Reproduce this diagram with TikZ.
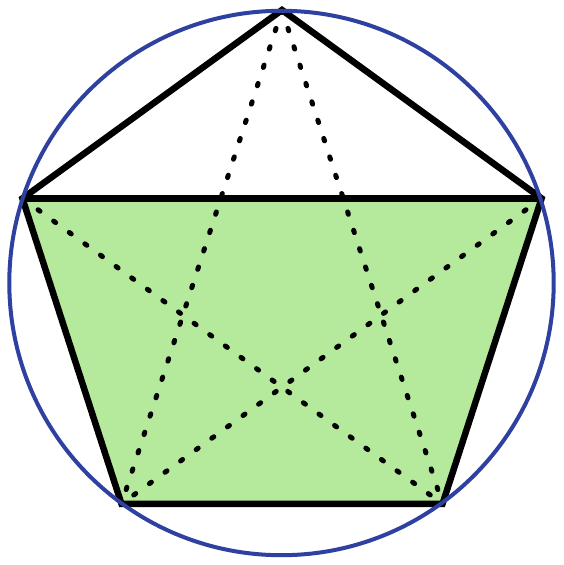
\documentclass[tikz,border=0pt]{standalone}
\begin{document}
\begin{tikzpicture}[x=1pt,y=-1pt,
  edge/.style={line width=6.5pt,black,line join=miter},
  diag/.style={line width=5pt,black,line cap=round,dash pattern=on 2.5pt off 16.8pt},
  ring/.style={line width=4pt,draw={rgb,255:red,46;green,64;blue,160}},
  greenfill/.style={fill={rgb,255:red,181;green,233;blue,156}}]
\useasboundingbox (0,0) rectangle (564,565);
\coordinate (c) at (281.5,283);
\coordinate (t) at (282,10);
\coordinate (l) at (22.4,198.4);
\coordinate (r) at (541.6,198.4);
\coordinate (bl) at (121.5,503.9);
\coordinate (br) at (442.5,503.9);
\fill[greenfill] (l) -- (r) -- (br) -- (bl) -- cycle;
\draw[diag] (t) -- (bl);
\draw[diag] (t) -- (br);
\draw[diag] (l) -- (br);
\draw[diag] (r) -- (bl);
\draw[edge] (t) -- (l) -- (bl) -- (br) -- (r) -- cycle;
\draw[edge] (l) -- (r);
\draw[ring] (c) circle[radius=272.2];
\end{tikzpicture}
\end{document}
